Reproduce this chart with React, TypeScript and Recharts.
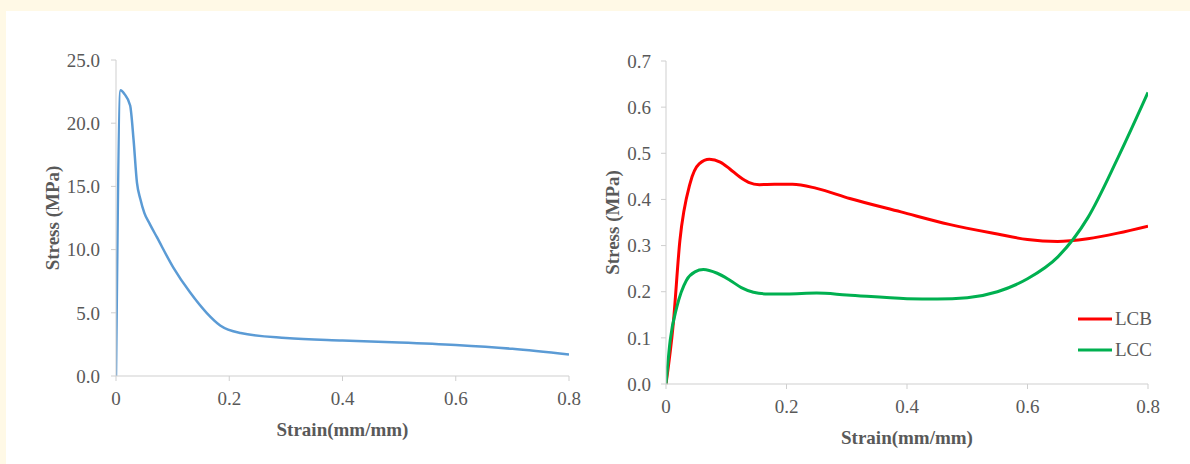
import React from "react";
import { LineChart, Line, XAxis, YAxis, Legend, Label } from "recharts";

// ---- data ----
const strainTicks = [0, 0.2, 0.4, 0.6, 0.8];
const leftStressTicks = [0, 5, 10, 15, 20, 25];
const rightStressTicks = [0, 0.1, 0.2, 0.3, 0.4, 0.5, 0.6, 0.7];

const mainStrain = [0, 0.008, 0.015, 0.025, 0.031, 0.037, 0.043, 0.05, 0.06, 0.072, 0.101, 0.131, 0.16, 0.184, 0.22, 0.3, 0.4, 0.5, 0.6, 0.7, 0.8];
const mainStress = [0, 22.6, 22.3, 21.4, 18.7, 15.3, 14.0, 12.9, 12.0, 11.0, 8.6, 6.6, 5.0, 4.0, 3.4, 3.0, 2.8, 2.65, 2.45, 2.15, 1.7];

const lcbStrain = [0, 0.012, 0.023, 0.04, 0.055, 0.072, 0.09, 0.106, 0.122, 0.137, 0.155, 0.18, 0.21, 0.25, 0.305, 0.39, 0.47, 0.55, 0.6, 0.65, 0.7, 0.75, 0.8];
const lcbStress = [0, 0.13, 0.31, 0.435, 0.477, 0.487, 0.481, 0.466, 0.449, 0.437, 0.432, 0.433, 0.433, 0.424, 0.402, 0.373, 0.346, 0.325, 0.313, 0.309, 0.315, 0.327, 0.342];

const lccStrain = [0, 0.007, 0.018, 0.034, 0.048, 0.062, 0.085, 0.106, 0.125, 0.145, 0.17, 0.2, 0.25, 0.3, 0.4, 0.45, 0.5, 0.55, 0.6, 0.65, 0.7, 0.75, 0.8];
const lccStress = [0, 0.095, 0.167, 0.225, 0.243, 0.248, 0.24, 0.225, 0.209, 0.199, 0.195, 0.195, 0.197, 0.193, 0.185, 0.184, 0.187, 0.2, 0.228, 0.275, 0.36, 0.49, 0.632];

const seriesNames = ["LCB", "LCC"];
const xTitle = "Strain(mm/mm)";
const yTitle = "Stress (MPa)";

const toPoints = (xs: number[], ys: number[]) => xs.map((x, i) => ({ x, y: ys[i] }));
const mainData = toPoints(mainStrain, mainStress);
const lcbData = toPoints(lcbStrain, lcbStress);
const lccData = toPoints(lccStrain, lccStress);

// ---- styles ----
const FONT = "'Liberation Serif', 'Times New Roman', serif";
const TEXT = "#595959";
const AXIS = "#cfcfcf";
const tickStyle = { fontFamily: FONT, fontSize: 19, fill: TEXT };

const xTitleContent = (props: any) => {
  const vb = props.viewBox || {};
  const cx = (vb.x ?? 0) + (vb.width ?? 0) / 2;
  const cy = (vb.y ?? 0) + 53;
  return (
    <text x={cx} y={cy} textAnchor="middle" dominantBaseline="central"
      style={{ fontFamily: FONT, fontSize: 19, fontWeight: 700, fill: TEXT }}>
      {xTitle}
    </text>
  );
};

const yTitleContent = (props: any) => {
  const vb = props.viewBox || {};
  const cx = (vb.x ?? 0) + 12;
  const cy = (vb.y ?? 0) + (vb.height ?? 0) / 2;
  return (
    <text x={cx} y={cy} textAnchor="middle" dominantBaseline="central"
      transform={`rotate(-90, ${cx}, ${cy})`}
      style={{ fontFamily: FONT, fontSize: 19, fontWeight: 700, fill: TEXT }}>
      {yTitle}
    </text>
  );
};

const legendColors = ["#ff0000", "#00b050"];
const legendContent = () => (
  <div style={{ fontFamily: FONT, fontSize: 19, color: TEXT }}>
    {seriesNames.map((n, i) => (
      <div key={n} style={{ display: "flex", alignItems: "center", height: 31 }}>
        <svg width={36} height={6} style={{ marginRight: 1 }}>
          <line x1={0} y1={3} x2={34} y2={3} stroke={legendColors[i]} strokeWidth={3} />
        </svg>
        <span>{n}</span>
      </div>
    ))}
  </div>
);

const fmtX = (v: number) => (v === 0 ? "0" : String(v));

export default function App() {
  return (
    <div style={{ position: "absolute", left: 0, top: 0, width: 1190, height: 464, background: "#fff9e6", overflow: "hidden" }}>
      <div style={{ position: "absolute", left: 6, top: 11, width: 1184, height: 453, background: "#ffffff" }} />
      <div style={{ position: "absolute", left: 0, top: 0 }}>
        <LineChart width={600} height={464} margin={{ top: 60, right: 31, bottom: 48, left: 40 }}>
          <XAxis type="number" dataKey="x" domain={[0, 0.8]} ticks={strainTicks} tickFormatter={fmtX}
            height={40} tick={tickStyle} tickSize={5} tickMargin={11}
            axisLine={{ stroke: AXIS }} tickLine={{ stroke: AXIS }} allowDataOverflow>
            <Label content={xTitleContent} />
          </XAxis>
          <YAxis type="number" dataKey="y" domain={[0, 25]} ticks={leftStressTicks}
            tickFormatter={(v: number) => v.toFixed(1)} width={76} tick={tickStyle}
            tickSize={5} tickMargin={11} axisLine={{ stroke: AXIS }} tickLine={{ stroke: AXIS }}>
            <Label content={yTitleContent} />
          </YAxis>
          <Line data={mainData} dataKey="y" type="monotone" stroke="#5b9bd5" strokeWidth={2.5}
            dot={false} isAnimationActive={false} />
        </LineChart>
      </div>
      <div style={{ position: "absolute", left: 600, top: 0 }}>
        <LineChart width={590} height={464} margin={{ top: 61, right: 42, bottom: 40, left: 0 }}>
          <XAxis type="number" dataKey="x" domain={[0, 0.8]} ticks={strainTicks} tickFormatter={fmtX}
            height={40} tick={tickStyle} tickSize={5} tickMargin={11}
            axisLine={{ stroke: AXIS }} tickLine={{ stroke: AXIS }} allowDataOverflow>
            <Label content={xTitleContent} />
          </XAxis>
          <YAxis type="number" dataKey="y" domain={[0, 0.7]} ticks={rightStressTicks}
            tickFormatter={(v: number) => v.toFixed(1)} width={66} tick={tickStyle}
            tickSize={5} tickMargin={10} axisLine={{ stroke: AXIS }} tickLine={{ stroke: AXIS }}>
            <Label content={yTitleContent} />
          </YAxis>
          <Line data={lcbData} dataKey="y" name={seriesNames[0]} type="monotone" stroke="#ff0000"
            strokeWidth={3} dot={false} isAnimationActive={false} />
          <Line data={lccData} dataKey="y" name={seriesNames[1]} type="monotone" stroke="#00b050"
            strokeWidth={3} dot={false} isAnimationActive={false} />
          <Legend content={legendContent} layout="vertical" align="center" verticalAlign="middle"
            wrapperStyle={{ position: "absolute", left: 478, top: 303, width: 90, bottom: "auto", right: "auto", margin: 0 }} />
        </LineChart>
      </div>
    </div>
  );
}
